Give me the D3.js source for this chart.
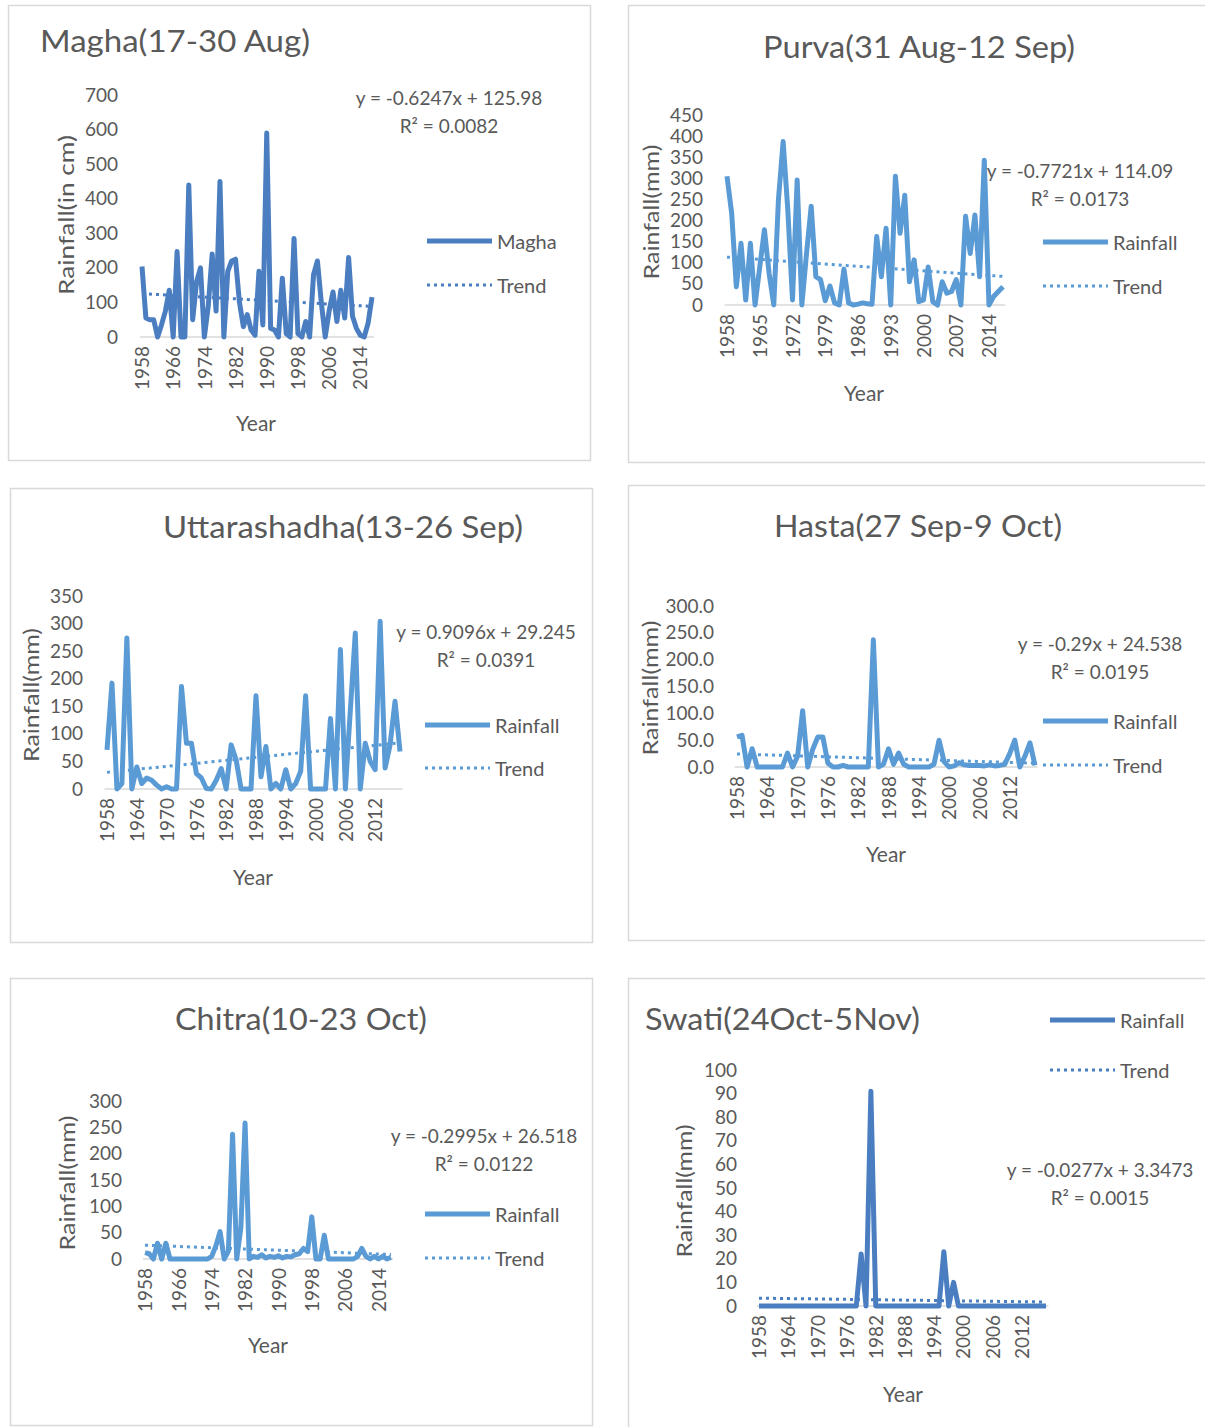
<!DOCTYPE html>
<html>
<head>
<meta charset="utf-8">
<script src="https://cdn.jsdelivr.net/npm/d3@7"></script>
<style>
body { margin: 0; background: #fff; }
svg text { font-family: Lato, "Open Sans", sans-serif; }
</style>
</head>
<body>
<svg id="chart" width="1205" height="1427"></svg>
<script>
'use strict';

var years = [1958, 1959, 1960, 1961, 1962, 1963, 1964, 1965, 1966, 1967,
	1968, 1969, 1970, 1971, 1972, 1973, 1974, 1975, 1976, 1977,
	1978, 1979, 1980, 1981, 1982, 1983, 1984, 1985, 1986, 1987,
	1988, 1989, 1990, 1991, 1992, 1993, 1994, 1995, 1996, 1997,
	1998, 1999, 2000, 2001, 2002, 2003, 2004, 2005, 2006, 2007,
	2008, 2009, 2010, 2011, 2012, 2013, 2014, 2015, 2016, 2017];

// rainfall per nakshatra
var magha = [204, 55, 50, 50, 0, 35, 75, 135, 0, 247, 0, 0, 440, 50, 160, 200, 0, 90, 240, 75,
	450, 0, 190, 220, 225, 100, 30, 65, 20, 5, 190, 35, 590, 25, 20, 0, 170, 10, 0, 285,
	10, 0, 45, 0, 180, 220, 100, 0, 75, 130, 45, 135, 55, 230, 60, 25, 5, 0, 40, 115];
var purva = [305, 217, 43, 146, 12, 146, 0, 90, 178, 75, 0, 250, 387, 225, 12, 296, 0, 122, 234, 67,
	60, 10, 45, 5, 0, 85, 5, 0, 2, 5, 3, 2, 162, 67, 182, 0, 305, 170, 260, 55,
	107, 8, 12, 90, 8, 0, 55, 28, 32, 60, 0, 210, 122, 213, 67, 343, 0, 20, 32, 43];
var uttarashadha = [71, 192, 0, 10, 274, 0, 40, 10, 20, 16, 7, 0, 4, 0, 0, 186, 83, 83, 28, 20,
	1, 0, 16, 37, 0, 80, 53, 0, 0, 0, 169, 22, 77, 0, 10, 0, 35, 0, 10, 32,
	169, 0, 0, 0, 0, 128, 0, 253, 0, 143, 283, 0, 83, 50, 35, 304, 38, 80, 159, 68];
var hasta = [56, 59, 0, 34, 0, 0, 0, 0, 0, 0, 26, 0, 20, 105, 0, 33, 56, 56, 7, 0,
	0, 3, 0, 0, 0, 0, 0, 237, 0, 5, 34, 5, 26, 5, 0, 0, 0, 0, 0, 5,
	50, 10, 0, 2, 8, 4, 3, 3, 3, 2, 4, 2, 3, 5, 25, 50, 0, 20, 45, 3];
var chitra = [12, 10, 0, 30, 0, 30, 0, 0, 0, 0, 0, 0, 0, 0, 0, 0, 5, 25, 52, 0,
	15, 237, 0, 60, 258, 0, 5, 3, 8, 2, 5, 3, 6, 2, 5, 4, 8, 10, 20, 14,
	80, 0, 0, 45, 0, 0, 0, 0, 0, 0, 0, 5, 20, 5, 0, 5, 0, 5, 0, 3];
var swati = [0, 0, 0, 0, 0, 0, 0, 0, 0, 0, 0, 0, 0, 0, 0, 0, 0, 0, 0, 0,
	0, 22, 0, 91, 0, 0, 0, 0, 0, 0, 0, 0, 0, 0, 0, 0, 0, 0, 23, 0,
	10, 0, 0, 0, 0, 0, 0, 0, 0, 0, 0, 0, 0, 0, 0, 0, 0, 0, 0, 0];

var titles = ['Magha(17-30 Aug)', 'Purva(31 Aug-12 Sep)', 'Uttarashadha(13-26 Sep)',
	'Hasta(27 Sep-9 Oct)', 'Chitra(10-23 Oct)', 'Swati(24Oct-5Nov)'];
var seriesNames = ['Magha', 'Rainfall', 'Rainfall', 'Rainfall', 'Rainfall', 'Rainfall'];
var yTitles = ['Rainfall(in cm)', 'Rainfall(mm)', 'Rainfall(mm)', 'Rainfall(mm)', 'Rainfall(mm)', 'Rainfall(mm)'];
var yMax = [700, 450, 350, 300, 300, 100];
var yStep = [100, 50, 50, 50, 50, 10];
var xTicks = [
	[1958, 1966, 1974, 1982, 1990, 1998, 2006, 2014],
	[1958, 1965, 1972, 1979, 1986, 1993, 2000, 2007, 2014],
	[1958, 1964, 1970, 1976, 1982, 1988, 1994, 2000, 2006, 2012],
	[1958, 1964, 1970, 1976, 1982, 1988, 1994, 2000, 2006, 2012],
	[1958, 1966, 1974, 1982, 1990, 1998, 2006, 2014],
	[1958, 1964, 1970, 1976, 1982, 1988, 1994, 2000, 2006, 2012]
];
var trendSlope = [-0.6247, -0.7721, 0.9096, -0.29, -0.2995, -0.0277];
var trendIntercept = [125.98, 114.09, 29.245, 24.538, 26.518, 3.3473];
var rSquared = ['0.0082', '0.0173', '0.0391', '0.0195', '0.0122', '0.0015'];

var series = [magha, purva, uttarashadha, hasta, chitra, swati];

var dark = '#4a7ec1', light = '#5b9bd5', grey = '#595959';

// where each panel sits on the page
var layout = [
	{box: [8, 5, 582, 455], title: [40, 52, 'start', 270], x0: 142, x1: 372, yb: 337, yt: 95, yLab: 118,
		yTitle: [65, 215, 160], xTitle: [256, 422], eq: [449, 97], leg: [427, 241, 285], color: dark},
	{box: [628, 5, 600, 457], title: [919, 58, 'middle', 312], x0: 727, x1: 1003, yb: 305, yt: 115, yLab: 703,
		yTitle: [650, 212, 135], xTitle: [864, 392], eq: [1080, 170], leg: [1043, 242, 286], color: light},
	{box: [10, 488, 582, 454], title: [343, 538, 'middle', 360], x0: 107, x1: 400, yb: 789, yt: 596, yLab: 83,
		yTitle: [30, 695, 134], xTitle: [253, 876], eq: [486, 631], leg: [425, 725, 768], color: light},
	{box: [628, 485, 600, 455], title: [918, 537, 'middle', 288], x0: 737, x1: 1035, yb: 767, yt: 606, yLab: 714,
		yTitle: [649, 688, 135], xTitle: [886, 853], eq: [1100, 643], leg: [1043, 721, 765], color: light},
	{box: [10, 978, 582, 447], title: [301, 1030, 'middle', 252], x0: 145, x1: 391, yb: 1259, yt: 1101, yLab: 122,
		yTitle: [66, 1183, 135], xTitle: [268, 1344], eq: [484, 1135], leg: [425, 1214, 1258], color: light},
	{box: [628, 978, 600, 460], title: [645, 1030, 'start', 275], x0: 759, x1: 1046, yb: 1306, yt: 1070, yLab: 737,
		yTitle: [683, 1191, 133], xTitle: [903, 1393], eq: [1100, 1169], leg: [1050, 1020, 1070], color: dark}
];

var svg = d3.select('#chart');

function drawPanel(i) {
	var L = layout[i];
	var data = series[i];
	var g = svg.append('g');

	g.append('rect')
		.attr('x', L.box[0] + 0.5).attr('y', L.box[1] + 0.5)
		.attr('width', L.box[2]).attr('height', L.box[3])
		.attr('fill', '#fff').attr('stroke', '#d9d9d9').attr('stroke-width', 1.5);

	var x = d3.scalePoint().domain(years).range([L.x0, L.x1]);
	var y = d3.scaleLinear().domain([0, yMax[i]]).range([L.yb, L.yt]);
	var step = x.step();

	g.append('line')
		.attr('x1', L.x0 - step / 2).attr('x2', L.x1 + step / 2)
		.attr('y1', L.yb).attr('y2', L.yb)
		.attr('stroke', '#d9d9d9').attr('stroke-width', 1.5);

	var fmt = i === 3 ? d3.format('.1f') : d3.format('d');
	var yAxis = d3.axisLeft(y)
		.tickValues(d3.range(0, yMax[i] + yStep[i] / 2, yStep[i]))
		.tickSize(0).tickPadding(0).tickFormat(fmt);
	g.append('g')
		.attr('transform', 'translate(' + L.yLab + ',0)')
		.call(yAxis)
		.attr('font-family', 'Lato, sans-serif').attr('font-size', 19).attr('color', grey)
		.call(a => a.select('.domain').remove());

	var xAxis = d3.axisBottom(x).tickValues(xTicks[i]).tickSize(0).tickPadding(0);
	var xg = g.append('g')
		.attr('transform', 'translate(0,' + L.yb + ')')
		.call(xAxis)
		.attr('font-family', 'Lato, sans-serif').attr('font-size', 19).attr('color', grey);
	xg.select('.domain').remove();
	xg.selectAll('text')
		.attr('transform', 'rotate(-90)')
		.attr('x', -9).attr('y', 0).attr('dy', '0.35em')
		.attr('text-anchor', 'end');

	// trend line from the printed equation
	var n = years.length;
	g.append('line')
		.attr('x1', x(years[0])).attr('y1', y(trendSlope[i] * 1 + trendIntercept[i]))
		.attr('x2', x(years[n - 1])).attr('y2', y(trendSlope[i] * n + trendIntercept[i]))
		.attr('stroke', L.color).attr('stroke-width', 3)
		.attr('stroke-dasharray', '3,4');

	var line = d3.line()
		.x((d, j) => x(years[j]))
		.y(d => y(d));
	g.append('path')
		.datum(data)
		.attr('d', line)
		.attr('fill', 'none')
		.attr('stroke', L.color)
		.attr('stroke-width', 5)
		.attr('stroke-linejoin', 'round');

	// titles
	g.append('text')
		.attr('x', L.title[0]).attr('y', L.title[1])
		.attr('text-anchor', L.title[2])
		.attr('font-size', 30).attr('fill', grey)
		.attr('textLength', L.title[3]).attr('lengthAdjust', 'spacingAndGlyphs')
		.text(titles[i]);

	g.append('text')
		.attr('transform', 'translate(' + L.yTitle[0] + ',' + L.yTitle[1] + ') rotate(-90)')
		.attr('text-anchor', 'middle').attr('dominant-baseline', 'central')
		.attr('font-size', 22).attr('fill', grey)
		.attr('textLength', L.yTitle[2]).attr('lengthAdjust', 'spacingAndGlyphs')
		.text(yTitles[i]);

	g.append('text')
		.attr('x', L.xTitle[0]).attr('y', L.xTitle[1])
		.attr('text-anchor', 'middle').attr('dominant-baseline', 'central')
		.attr('font-size', 21).attr('fill', grey)
		.text('Year');

	// equation
	g.append('text')
		.attr('x', L.eq[0]).attr('y', L.eq[1])
		.attr('text-anchor', 'middle').attr('dominant-baseline', 'central')
		.attr('font-size', 19).attr('fill', grey)
		.text('y = ' + trendSlope[i] + 'x + ' + trendIntercept[i]);
	g.append('text')
		.attr('x', L.eq[0]).attr('y', L.eq[1] + 28)
		.attr('text-anchor', 'middle').attr('dominant-baseline', 'central')
		.attr('font-size', 19).attr('fill', grey)
		.text('R² = ' + rSquared[i]);

	// legend
	var lg = g.append('g');
	lg.append('line')
		.attr('x1', L.leg[0]).attr('x2', L.leg[0] + 65)
		.attr('y1', L.leg[1]).attr('y2', L.leg[1])
		.attr('stroke', L.color).attr('stroke-width', 5);
	lg.append('text')
		.attr('x', L.leg[0] + 70).attr('y', L.leg[1])
		.attr('dominant-baseline', 'central')
		.attr('font-size', 20).attr('fill', grey)
		.text(seriesNames[i]);
	lg.append('line')
		.attr('x1', L.leg[0]).attr('x2', L.leg[0] + 65)
		.attr('y1', L.leg[2]).attr('y2', L.leg[2])
		.attr('stroke', L.color).attr('stroke-width', 3)
		.attr('stroke-dasharray', '3,4');
	lg.append('text')
		.attr('x', L.leg[0] + 70).attr('y', L.leg[2])
		.attr('dominant-baseline', 'central')
		.attr('font-size', 20).attr('fill', grey)
		.text('Trend');
}

for (var i = 0; i < 6; i++) {
	drawPanel(i);
}
</script>
</body>
</html>
